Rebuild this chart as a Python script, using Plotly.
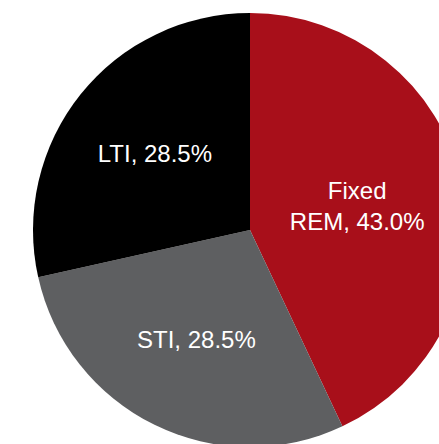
import plotly.graph_objects as go

labels = ["Fixed<br>REM", "STI", "LTI"]
values = [43.0, 28.5, 28.5]
colors = ["#A80F1A", "#5E5F61", "#000000"]

W, H = 500, 460
cx, cy, r = 250, 230, 217

fig = go.Figure(go.Pie(
    labels=labels,
    values=values,
    sort=False,
    direction="clockwise",
    rotation=0,
    marker=dict(colors=colors, line=dict(width=0)),
    texttemplate="%{label}, %{value:.1f}%",
    textposition="inside",
    insidetextorientation="horizontal",
    textfont=dict(family="Liberation Sans, Arial, sans-serif", size=24, color="white"),
    hoverinfo="label+value",
    domain=dict(x=[(cx - r) / W, (cx + r) / W], y=[(H - cy - r) / H, (H - cy + r) / H]),
))
fig.update_layout(
    width=W, height=H,
    margin=dict(l=0, r=0, t=0, b=0),
    showlegend=False,
    paper_bgcolor="white",
)
fig.write_html("out.html", post_script="document.body.style.margin='0';document.body.style.overflow='hidden';")
